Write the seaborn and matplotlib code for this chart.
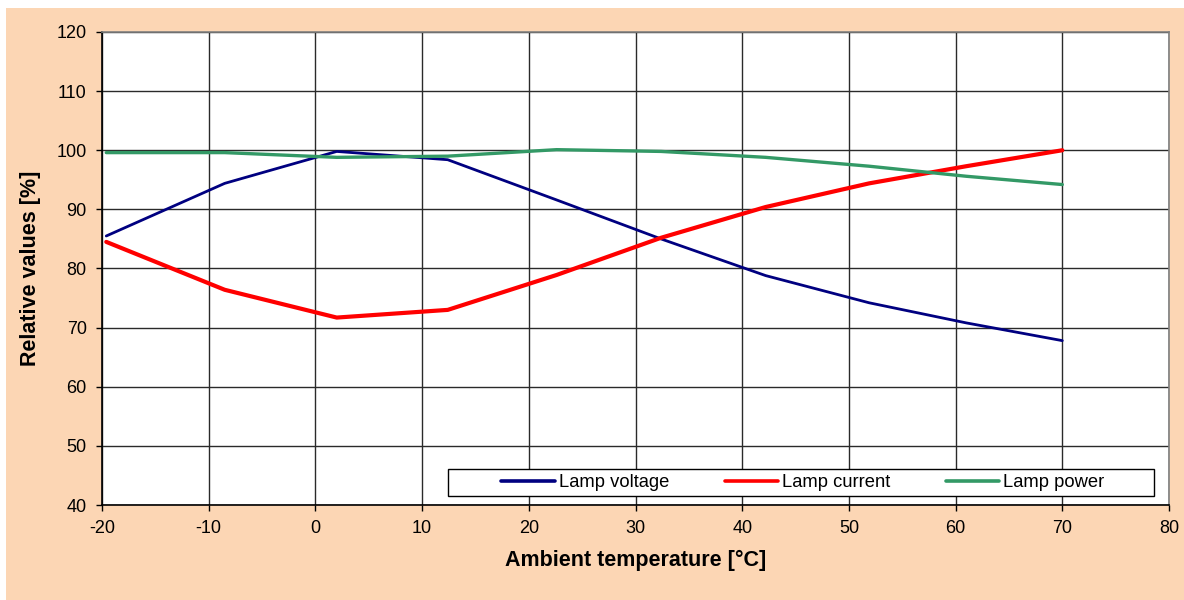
import pandas as pd
import matplotlib.pyplot as plt
import seaborn as sns
from matplotlib.patches import Rectangle

# Data
temperature = [-19.6, -8.5, 2.0, 12.4, 22.6, 32.4, 42.2, 51.9, 61.0, 70.0]
lamp_voltage = [85.5, 94.4, 99.8, 98.4, 91.6, 85.0, 78.8, 74.2, 70.8, 67.8]
lamp_current = [84.5, 76.4, 71.7, 73.0, 78.9, 85.2, 90.4, 94.4, 97.3, 100.0]
lamp_power = [99.6, 99.6, 98.8, 99.0, 100.1, 99.8, 98.8, 97.3, 95.6, 94.2]

series_names = ['Lamp voltage', 'Lamp current', 'Lamp power']
series_colors = ['#000080', '#FF0000', '#339966']
series_widths = [2.0, 3.0, 2.4]

df = pd.DataFrame({
    'temp': temperature * 3,
    'value': lamp_voltage + lamp_current + lamp_power,
    'series': [n for n in series_names for _ in temperature],
})

sns.set_style('white')
plt.rcParams['font.family'] = ['Liberation Sans', 'DejaVu Sans']
plt.rcParams['axes.unicode_minus'] = False
plt.rcParams['text.color'] = 'black'
plt.rcParams['axes.labelcolor'] = 'black'

fig = plt.figure(figsize=(11.84, 6), dpi=100, facecolor='white')
fig.patches.append(Rectangle((6 / 1184, 0), 1 - 6 / 1184, 1 - 8 / 600,
                             transform=fig.transFigure, facecolor='#FCD6B4',
                             edgecolor='none', zorder=-10))
ax = fig.add_axes([102 / 1184, 1 - 505 / 600, 1067 / 1184, 473 / 600])
ax.set_facecolor('white')

sns.lineplot(data=df, x='temp', y='value', hue='series', hue_order=series_names,
             palette=series_colors, estimator=None, sort=False, ax=ax)
for line, lw in zip(ax.get_lines(), series_widths):
    line.set_linewidth(lw)
    line.set_solid_joinstyle('round')
    line.set_zorder(3)

ax.set_xlim(-20, 80)
ax.set_ylim(40, 120)
ax.set_xticks(range(-20, 81, 10))
ax.set_yticks(range(40, 121, 10))
ax.grid(True, color='#2a2a2a', linewidth=1.0)
ax.set_axisbelow(True)
for side in ['left', 'bottom']:
    ax.spines[side].set_color('black')
for side in ['top', 'right']:
    ax.spines[side].set_color('#808080')
for s in ax.spines.values():
    s.set_linewidth(1.2)
ax.tick_params(axis='both', direction='out', length=4, width=1, color='black',
               labelsize=13, labelcolor='black', pad=7)
ax.tick_params(left=True, bottom=True)

ax.set_xlabel('Ambient temperature [°C]', fontsize=15.5, fontweight='bold', labelpad=9)
ax.set_ylabel('Relative values [%]', fontsize=15.5, fontweight='bold', labelpad=11)

# legend box drawn separately, entries centred inside it
ax.add_patch(Rectangle((0.324, 0.019), 0.662, 0.057, transform=ax.transAxes,
                       facecolor='white', edgecolor='black', linewidth=1.0,
                       zorder=4))
handles, labels = ax.get_legend_handles_labels()
for h in handles:
    h.set_linewidth(2.6)
leg = ax.legend(handles, labels, ncol=3, loc='center',
                bbox_to_anchor=(0.657, 0.0476), fontsize=13.2, frameon=False,
                handlelength=2.9, handletextpad=0.25, columnspacing=3.0,
                borderaxespad=0, borderpad=0)
leg.set_zorder(5)

fig.savefig('out.png', dpi=100, facecolor=fig.get_facecolor())
